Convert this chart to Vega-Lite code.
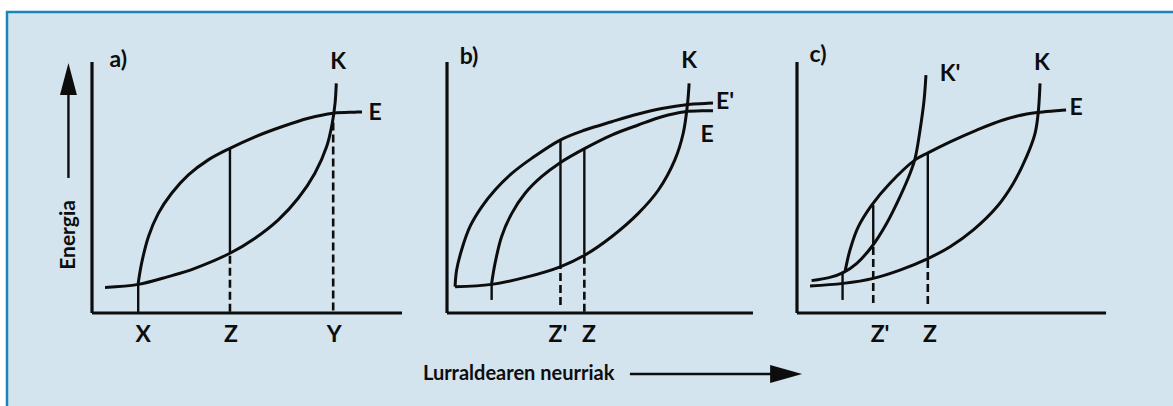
{
  "$schema": "https://vega.github.io/schema/vega-lite/v6.json",
  "width": 1173,
  "height": 406,
  "autosize": {"type": "fit", "contains": "padding"},
  "padding": {"left": 7, "top": 12, "right": -2, "bottom": -2},
  "background": "#ffffff",
  "config": {
    "view": {"fill": "#d3e4ee", "stroke": "#1a86b8", "strokeWidth": 2.5},
    "axis": {"disable": true},
    "text": {"font": "Lato", "fontWeight": "bold", "fontSize": 23, "color": "#0d0d0d", "align": "center", "baseline": "middle"}
  },
  "datasets": {
    "curves": [
      {"p": "a", "c": "E", "x": 14.9, "y": 11.8}, {"p": "a", "c": "E", "x": 16.0, "y": 19.8}, {"p": "a", "c": "E", "x": 18.2, "y": 30.4}, {"p": "a", "c": "E", "x": 21.4, "y": 39.7}, {"p": "a", "c": "E", "x": 25.7, "y": 47.7}, {"p": "a", "c": "E", "x": 31.1, "y": 55.0}, {"p": "a", "c": "E", "x": 37.5, "y": 61.0}, {"p": "a", "c": "E", "x": 44.5, "y": 65.6}, {"p": "a", "c": "E", "x": 52.6, "y": 70.2}, {"p": "a", "c": "E", "x": 61.2, "y": 74.2}, {"p": "a", "c": "E", "x": 69.8, "y": 77.6}, {"p": "a", "c": "E", "x": 77.8, "y": 79.6}, {"p": "a", "c": "E", "x": 84.8, "y": 80.0}, {"p": "a", "c": "E", "x": 87.1, "y": 80.1},
      {"p": "a", "c": "K", "x": 4.2, "y": 10.2}, {"p": "a", "c": "K", "x": 14.9, "y": 11.4}, {"p": "a", "c": "K", "x": 24.6, "y": 14.5}, {"p": "a", "c": "K", "x": 33.2, "y": 17.8}, {"p": "a", "c": "K", "x": 44.5, "y": 23.8}, {"p": "a", "c": "K", "x": 52.6, "y": 29.8}, {"p": "a", "c": "K", "x": 60.1, "y": 37.1}, {"p": "a", "c": "K", "x": 66.5, "y": 45.7}, {"p": "a", "c": "K", "x": 71.9, "y": 55.7}, {"p": "a", "c": "K", "x": 75.7, "y": 66.3}, {"p": "a", "c": "K", "x": 77.5, "y": 75.6}, {"p": "a", "c": "K", "x": 78.4, "y": 83.5}, {"p": "a", "c": "K", "x": 78.8, "y": 91.5},
      {"p": "b", "c": "E'", "x": 2.6, "y": 10.5}, {"p": "b", "c": "E'", "x": 3.1, "y": 17.1}, {"p": "b", "c": "E'", "x": 4.7, "y": 25.1}, {"p": "b", "c": "E'", "x": 7.4, "y": 34.4}, {"p": "b", "c": "E'", "x": 11.2, "y": 42.3}, {"p": "b", "c": "E'", "x": 15.5, "y": 49.0}, {"p": "b", "c": "E'", "x": 20.9, "y": 55.6}, {"p": "b", "c": "E'", "x": 27.3, "y": 61.6}, {"p": "b", "c": "E'", "x": 36.5, "y": 68.9}, {"p": "b", "c": "E'", "x": 44.5, "y": 72.9}, {"p": "b", "c": "E'", "x": 53.1, "y": 76.2}, {"p": "b", "c": "E'", "x": 61.7, "y": 79.3}, {"p": "b", "c": "E'", "x": 69.3, "y": 81.5}, {"p": "b", "c": "E'", "x": 77.8, "y": 83.1}, {"p": "b", "c": "E'", "x": 83.2, "y": 83.5}, {"p": "b", "c": "E'", "x": 85.8, "y": 83.7},
      {"p": "b", "c": "E", "x": 14.4, "y": 11.8}, {"p": "b", "c": "E", "x": 15.5, "y": 19.8}, {"p": "b", "c": "E", "x": 17.6, "y": 30.4}, {"p": "b", "c": "E", "x": 20.9, "y": 39.7}, {"p": "b", "c": "E", "x": 25.2, "y": 47.7}, {"p": "b", "c": "E", "x": 30.5, "y": 54.3}, {"p": "b", "c": "E", "x": 36.5, "y": 59.9}, {"p": "b", "c": "E", "x": 44.5, "y": 65.6}, {"p": "b", "c": "E", "x": 53.1, "y": 70.9}, {"p": "b", "c": "E", "x": 61.7, "y": 74.9}, {"p": "b", "c": "E", "x": 69.3, "y": 78.2}, {"p": "b", "c": "E", "x": 76.8, "y": 80.2}, {"p": "b", "c": "E", "x": 83.2, "y": 80.6}, {"p": "b", "c": "E", "x": 85.8, "y": 80.6},
      {"p": "b", "c": "K", "x": 2.6, "y": 10.5}, {"p": "b", "c": "K", "x": 14.4, "y": 11.4}, {"p": "b", "c": "K", "x": 26.2, "y": 14.5}, {"p": "b", "c": "K", "x": 36.5, "y": 18.4}, {"p": "b", "c": "K", "x": 44.5, "y": 23.1}, {"p": "b", "c": "K", "x": 53.1, "y": 30.4}, {"p": "b", "c": "K", "x": 61.7, "y": 39.7}, {"p": "b", "c": "K", "x": 68.2, "y": 49.0}, {"p": "b", "c": "K", "x": 73.5, "y": 61.0}, {"p": "b", "c": "K", "x": 76.2, "y": 71.6}, {"p": "b", "c": "K", "x": 77.6, "y": 83.5}, {"p": "b", "c": "K", "x": 78.1, "y": 91.5},
      {"p": "c", "c": "E", "x": 15.5, "y": 16.5}, {"p": "c", "c": "E", "x": 17.1, "y": 25.1}, {"p": "c", "c": "E", "x": 19.8, "y": 34.4}, {"p": "c", "c": "E", "x": 24.1, "y": 43.0}, {"p": "c", "c": "E", "x": 30.0, "y": 51.7}, {"p": "c", "c": "E", "x": 38.1, "y": 61.0}, {"p": "c", "c": "E", "x": 42.4, "y": 63.9}, {"p": "c", "c": "E", "x": 49.4, "y": 68.2}, {"p": "c", "c": "E", "x": 58.0, "y": 72.9}, {"p": "c", "c": "E", "x": 66.5, "y": 76.9}, {"p": "c", "c": "E", "x": 74.1, "y": 79.3}, {"p": "c", "c": "E", "x": 78.4, "y": 80.0}, {"p": "c", "c": "E", "x": 84.8, "y": 80.7}, {"p": "c", "c": "E", "x": 86.8, "y": 80.9},
      {"p": "c", "c": "K", "x": 4.2, "y": 10.8}, {"p": "c", "c": "K", "x": 14.9, "y": 11.8}, {"p": "c", "c": "K", "x": 24.6, "y": 13.8}, {"p": "c", "c": "K", "x": 33.2, "y": 17.1}, {"p": "c", "c": "K", "x": 42.4, "y": 21.8}, {"p": "c", "c": "K", "x": 49.4, "y": 26.4}, {"p": "c", "c": "K", "x": 56.9, "y": 33.1}, {"p": "c", "c": "K", "x": 64.5, "y": 42.3}, {"p": "c", "c": "K", "x": 69.8, "y": 51.7}, {"p": "c", "c": "K", "x": 74.1, "y": 62.4}, {"p": "c", "c": "K", "x": 76.8, "y": 71.6}, {"p": "c", "c": "K", "x": 77.8, "y": 79.6}, {"p": "c", "c": "K", "x": 78.4, "y": 91.5},
      {"p": "c", "c": "K'", "x": 4.7, "y": 12.9}, {"p": "c", "c": "K'", "x": 10.6, "y": 14.2}, {"p": "c", "c": "K'", "x": 14.9, "y": 16.1}, {"p": "c", "c": "K'", "x": 19.3, "y": 19.8}, {"p": "c", "c": "K'", "x": 24.1, "y": 26.4}, {"p": "c", "c": "K'", "x": 28.9, "y": 35.7}, {"p": "c", "c": "K'", "x": 33.2, "y": 46.3}, {"p": "c", "c": "K'", "x": 36.5, "y": 55.7}, {"p": "c", "c": "K'", "x": 38.1, "y": 61.6}, {"p": "c", "c": "K'", "x": 39.7, "y": 72.9}, {"p": "c", "c": "K'", "x": 41.0, "y": 84.9}, {"p": "c", "c": "K'", "x": 41.6, "y": 94.8}
    ],
    "rules": [
      {"p": "a", "k": "axis", "x": 0, "x2": 0, "y": 0, "y2": 100}, {"p": "a", "k": "axis", "x": 0, "x2": 100, "y": 0, "y2": 0},
      {"p": "a", "k": "solid", "x": 44.5, "x2": 44.5, "y": 23.8, "y2": 65.6},
      {"p": "a", "k": "dash", "x": 44.5, "x2": 44.5, "y": 0.5, "y2": 23.8}, {"p": "a", "k": "dash", "x": 77.8, "x2": 77.8, "y": 1, "y2": 77},
      {"p": "a", "k": "tick", "x": 14.9, "x2": 14.9, "y": 0, "y2": 11.6},
      {"p": "a", "k": "arrow", "x": -7.6, "x2": -7.6, "y": 53.8, "y2": 88},
      {"p": "b", "k": "axis", "x": 0, "x2": 0, "y": 0, "y2": 100}, {"p": "b", "k": "axis", "x": 0, "x2": 98.7, "y": 0, "y2": 0},
      {"p": "b", "k": "solid", "x": 36.6, "x2": 36.6, "y": 18.4, "y2": 68.9}, {"p": "b", "k": "solid", "x": 44.3, "x2": 44.3, "y": 23.4, "y2": 65.6},
      {"p": "b", "k": "dash", "x": 36.6, "x2": 36.6, "y": 3.2, "y2": 18.4}, {"p": "b", "k": "dash", "x": 44.3, "x2": 44.3, "y": 0.5, "y2": 23.4},
      {"p": "b", "k": "tick", "x": 14.4, "x2": 14.4, "y": 5.2, "y2": 11.8},
      {"p": "b", "k": "arrow", "x": 59.0, "x2": 106, "y": -24.3, "y2": -24.3},
      {"p": "c", "k": "axis", "x": 0, "x2": 0, "y": 0, "y2": 100}, {"p": "c", "k": "axis", "x": 0, "x2": 99.7, "y": 0, "y2": 0},
      {"p": "c", "k": "solid", "x": 24.6, "x2": 24.6, "y": 27.1, "y2": 43.0}, {"p": "c", "k": "solid", "x": 42.2, "x2": 42.2, "y": 22.2, "y2": 63.6},
      {"p": "c", "k": "dash", "x": 24.6, "x2": 24.6, "y": 4.0, "y2": 27.1}, {"p": "c", "k": "dash", "x": 42.2, "x2": 42.2, "y": 3.6, "y2": 22.2},
      {"p": "c", "k": "tick", "x": 14.7, "x2": 14.7, "y": 5.2, "y2": 16.5}
    ],
    "labels": [
      {"p": "a", "t": "a)", "x": 8.5, "y": 100.8}, {"p": "a", "t": "K", "x": 79.4, "y": 100}, {"p": "a", "t": "E", "x": 91.3, "y": 79.7}, {"p": "a", "t": "X", "x": 16.5, "y": -8.8}, {"p": "a", "t": "Z", "x": 44.8, "y": -8.8}, {"p": "a", "t": "Y", "x": 78.1, "y": -8.8},
      {"p": "b", "t": "b)", "x": 7.1, "y": 102}, {"p": "b", "t": "K", "x": 78.1, "y": 100.4}, {"p": "b", "t": "E'", "x": 89.7, "y": 83.9}, {"p": "b", "t": "E", "x": 83.9, "y": 71.1}, {"p": "b", "t": "Z'", "x": 35.8, "y": -8.8}, {"p": "b", "t": "Z", "x": 45.8, "y": -8.8},
      {"p": "c", "t": "c)", "x": 6.8, "y": 102.8}, {"p": "c", "t": "K'", "x": 49.4, "y": 95.2}, {"p": "c", "t": "K", "x": 79.0, "y": 99.6}, {"p": "c", "t": "E", "x": 90.0, "y": 81.7}, {"p": "c", "t": "Z'", "x": 26.8, "y": -8.8}, {"p": "c", "t": "Z", "x": 42.9, "y": -8.8}
    ],
    "titles": [
      {"p": "a", "t": "Energia", "x": -7.4, "y": 31.1},
      {"p": "b", "t": "Lurraldearen neurriak", "x": 23.1, "y": -24.3}
    ],
    "heads": [
      {"p": "a", "dir": "up", "x": -7.6, "y": 93.2},
      {"p": "b", "dir": "right", "x": 109.4, "y": -24.3}
    ]
  },
  "resolve": {"scale": {"x": "independent"}},
  "layer": [
    {
      "encoding": {
        "x": {"field": "x", "type": "quantitative", "scale": {"domain": [-27.42, 349.35], "nice": false, "zero": false}},
        "y": {"field": "y", "type": "quantitative", "scale": {"domain": [-37.85, 119.92], "nice": false, "zero": false}}
      },
      "layer": [
        {"data": {"name": "curves"}, "transform": [{"filter": "datum.p === 'a'"}], "mark": {"type": "line", "interpolate": "catmull-rom", "color": "#0d0d0d", "strokeWidth": 3}, "encoding": {"detail": {"field": "c"}}},
        {"data": {"name": "rules"}, "transform": [{"filter": "datum.p === 'a' && datum.k === 'axis'"}], "mark": {"type": "rule", "color": "#0d0d0d", "strokeWidth": 3.2}, "encoding": {"x2": {"field": "x2"}, "y2": {"field": "y2"}}},
        {"data": {"name": "rules"}, "transform": [{"filter": "datum.p === 'a' && (datum.k === 'solid' || datum.k === 'tick' || datum.k === 'arrow')"}], "mark": {"type": "rule", "color": "#0d0d0d", "strokeWidth": 2.4}, "encoding": {"x2": {"field": "x2"}, "y2": {"field": "y2"}}},
        {"data": {"name": "rules"}, "transform": [{"filter": "datum.p === 'a' && datum.k === 'dash'"}], "mark": {"type": "rule", "color": "#0d0d0d", "strokeWidth": 2.6, "strokeDash": [8, 4]}, "encoding": {"x2": {"field": "x2"}, "y2": {"field": "y2"}}},
        {"data": {"name": "labels"}, "transform": [{"filter": "datum.p === 'a'"}], "mark": {"type": "text"}, "encoding": {"text": {"field": "t"}}},
        {"data": {"name": "titles"}, "transform": [{"filter": "datum.p === 'a'"}], "mark": {"type": "text", "angle": 270, "fontSize": 21}, "encoding": {"text": {"field": "t"}}},
        {"data": {"name": "heads"}, "transform": [{"filter": "datum.p === 'a'"}], "mark": {"type": "point", "shape": "M0,-1L0.53,1L-0.53,1Z", "size": 1024, "filled": true, "color": "#0d0d0d", "opacity": 1, "strokeWidth": 0}}
      ]
    },
    {
      "encoding": {
        "x": {"field": "x", "type": "quantitative", "scale": {"domain": [-141.94, 234.84], "nice": false, "zero": false}},
        "y": {"field": "y", "type": "quantitative", "scale": {"domain": [-37.85, 119.92], "nice": false, "zero": false}}
      },
      "layer": [
        {"data": {"name": "curves"}, "transform": [{"filter": "datum.p === 'b'"}], "mark": {"type": "line", "interpolate": "catmull-rom", "color": "#0d0d0d", "strokeWidth": 3}, "encoding": {"detail": {"field": "c"}}},
        {"data": {"name": "rules"}, "transform": [{"filter": "datum.p === 'b' && datum.k === 'axis'"}], "mark": {"type": "rule", "color": "#0d0d0d", "strokeWidth": 3.2}, "encoding": {"x2": {"field": "x2"}, "y2": {"field": "y2"}}},
        {"data": {"name": "rules"}, "transform": [{"filter": "datum.p === 'b' && (datum.k === 'solid' || datum.k === 'tick' || datum.k === 'arrow')"}], "mark": {"type": "rule", "color": "#0d0d0d", "strokeWidth": 2.4}, "encoding": {"x2": {"field": "x2"}, "y2": {"field": "y2"}}},
        {"data": {"name": "rules"}, "transform": [{"filter": "datum.p === 'b' && datum.k === 'dash'"}], "mark": {"type": "rule", "color": "#0d0d0d", "strokeWidth": 2.6, "strokeDash": [8, 4]}, "encoding": {"x2": {"field": "x2"}, "y2": {"field": "y2"}}},
        {"data": {"name": "labels"}, "transform": [{"filter": "datum.p === 'b'"}], "mark": {"type": "text"}, "encoding": {"text": {"field": "t"}}},
        {"data": {"name": "titles"}, "transform": [{"filter": "datum.p === 'b'"}], "mark": {"type": "text", "fontSize": 20}, "encoding": {"text": {"field": "t"}}},
        {"data": {"name": "heads"}, "transform": [{"filter": "datum.p === 'b'"}], "mark": {"type": "point", "shape": "M1,0L-1,-0.56L-1,0.56Z", "size": 1024, "filled": true, "color": "#0d0d0d", "opacity": 1, "strokeWidth": 0}}
      ]
    },
    {
      "encoding": {
        "x": {"field": "x", "type": "quantitative", "scale": {"domain": [-254.84, 121.94], "nice": false, "zero": false}},
        "y": {"field": "y", "type": "quantitative", "scale": {"domain": [-37.85, 119.92], "nice": false, "zero": false}}
      },
      "layer": [
        {"data": {"name": "curves"}, "transform": [{"filter": "datum.p === 'c'"}], "mark": {"type": "line", "interpolate": "catmull-rom", "color": "#0d0d0d", "strokeWidth": 3}, "encoding": {"detail": {"field": "c"}}},
        {"data": {"name": "rules"}, "transform": [{"filter": "datum.p === 'c' && datum.k === 'axis'"}], "mark": {"type": "rule", "color": "#0d0d0d", "strokeWidth": 3.2}, "encoding": {"x2": {"field": "x2"}, "y2": {"field": "y2"}}},
        {"data": {"name": "rules"}, "transform": [{"filter": "datum.p === 'c' && (datum.k === 'solid' || datum.k === 'tick')"}], "mark": {"type": "rule", "color": "#0d0d0d", "strokeWidth": 2.4}, "encoding": {"x2": {"field": "x2"}, "y2": {"field": "y2"}}},
        {"data": {"name": "rules"}, "transform": [{"filter": "datum.p === 'c' && datum.k === 'dash'"}], "mark": {"type": "rule", "color": "#0d0d0d", "strokeWidth": 2.6, "strokeDash": [8, 4]}, "encoding": {"x2": {"field": "x2"}, "y2": {"field": "y2"}}},
        {"data": {"name": "labels"}, "transform": [{"filter": "datum.p === 'c'"}], "mark": {"type": "text"}, "encoding": {"text": {"field": "t"}}}
      ]
    }
  ]
}
